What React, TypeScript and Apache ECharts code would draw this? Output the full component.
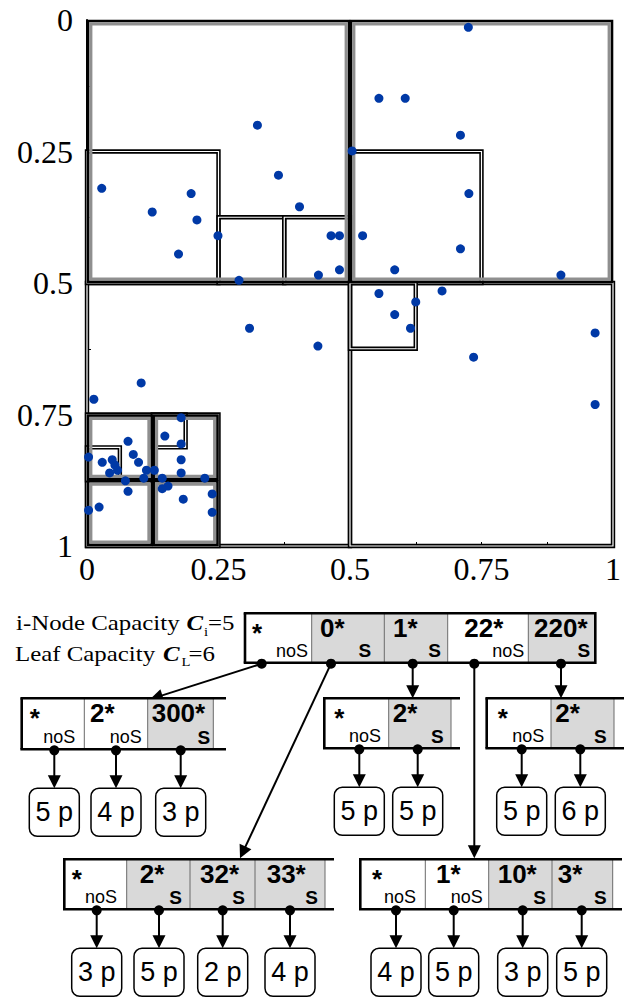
import React, { useEffect, useRef } from 'react';
import * as echarts from 'echarts';

// ---------- scatter data (x right, y downward) ----------
const pointsX = [
  0.324, 0.504, 0.028, 0.364, 0.198, 0.124, 0.209, 0.404, 0.249, 0.464, 0.48, 0.524, 0.174, 0.44, 0.48, 0.289,
  0.725, 0.555, 0.605, 0.71, 0.726, 0.71, 0.585, 0.901, 0.555, 0.675, 0.625, 0.585, 0.615, 0.966, 0.735, 0.966,
  0.309, 0.439, 0.103, 0.013, 0.179, 0.148, 0.078, 0.179, 0.088, 0.003, 0.048, 0.098, 0.029, 0.179, 0.053, 0.058,
  0.043, 0.113, 0.128, 0.179, 0.108, 0.143, 0.224, 0.073, 0.154, 0.143, 0.078, 0.238, 0.183, 0.023, 0.003, 0.238,
];
const pointsY = [
  0.2, 0.249, 0.32, 0.295, 0.33, 0.365, 0.38, 0.355, 0.41, 0.41, 0.41, 0.41, 0.445, 0.485, 0.475, 0.495,
  0.014, 0.149, 0.149, 0.219, 0.33, 0.435, 0.475, 0.485, 0.52, 0.515, 0.536, 0.56, 0.586, 0.595, 0.641, 0.731,
  0.586, 0.62, 0.69, 0.721, 0.756, 0.791, 0.801, 0.806, 0.826, 0.831, 0.836, 0.841, 0.841, 0.836, 0.846, 0.856,
  0.861, 0.856, 0.856, 0.861, 0.871, 0.871, 0.871, 0.876, 0.886, 0.891, 0.896, 0.901, 0.911, 0.926, 0.932, 0.936,
];

// region cells [x0, y0, x1, y1]
const shadedCells = [
  [0, 0, 0.5, 0.5],
  [0.5, 0, 1, 0.5],
  [0, 0.75, 0.125, 0.875],
  [0.125, 0.75, 0.25, 0.875],
  [0, 0.875, 0.125, 1],
  [0.125, 0.875, 0.25, 1],
];
const plainCells = [
  [0, 0.5, 0.5, 1],
  [0.5, 0.5, 1, 1],
  [0, 0.25, 0.25, 0.5],
  [0.25, 0.375, 0.375, 0.5],
  [0.375, 0.375, 0.5, 0.5],
  [0.5, 0.25, 0.75, 0.5],
  [0.5, 0.5, 0.625, 0.625],
  [0, 0.75, 0.25, 1],
  [0, 0.8125, 0.0625, 0.875],
  [0.125, 0.75, 0.1875, 0.8125],
];

// ---------- tree data ----------
const rootLabels = ['*', '0*', '1*', '22*', '220*'];
const rootTags = ['noS', 'S', 'S', 'noS', 'S'];
const nodeALabels = ['*', '2*', '300*'];
const nodeATags = ['noS', 'noS', 'S'];
const nodeALeaves = [5, 4, 3];
const nodeBLabels = ['*', '2*'];
const nodeBTags = ['noS', 'S'];
const nodeBLeaves = [5, 5];
const nodeCLabels = ['*', '2*'];
const nodeCTags = ['noS', 'S'];
const nodeCLeaves = [5, 6];
const nodeDLabels = ['*', '2*', '32*', '33*'];
const nodeDTags = ['noS', 'S', 'S', 'S'];
const nodeDLeaves = [3, 5, 2, 4];
const nodeELabels = ['*', '1*', '10*', '3*'];
const nodeETags = ['noS', 'noS', 'S', 'S'];
const nodeELeaves = [4, 5, 3, 5];

const SANS = '"Liberation Sans", Arial, sans-serif';
const SERIF = '"Liberation Serif", "Times New Roman", serif';

function txt(x: number, y: number, text: string, font: string, align = 'left', extra: any = {}) {
  return {
    type: 'text', x, y, silent: true, ...extra,
    style: { text, font, fill: '#000', align, verticalAlign: 'middle' },
  };
}
function seg(x1: number, y1: number, x2: number, y2: number, w = 2, color = '#000') {
  return { type: 'line', silent: true, shape: { x1, y1, x2, y2 }, style: { stroke: color, lineWidth: w } };
}
function arrow(x1: number, y1: number, x2: number, y2: number) {
  const dx = x2 - x1, dy = y2 - y1;
  const L = Math.hypot(dx, dy);
  const ux = dx / L, uy = dy / L;
  const hl = 13, hw = 6.5;
  const bx = x2 - ux * hl, by = y2 - uy * hl;
  return [
    seg(x1, y1, bx + ux * 1, by + uy * 1, 2),
    {
      type: 'polygon', silent: true,
      shape: { points: [[x2, y2], [bx - uy * hw, by + ux * hw], [bx + uy * hw, by - ux * hw]] },
      style: { fill: '#000' },
    },
  ];
}

function nodeEls(spec: any, labels: string[], tags: string[], leaves: number[] | null) {
  const { bounds, top, h, ext, closed, labelDx, tagGap, dotXs } = spec;
  const els: any[] = [];
  const bottom = top + h;
  const n = labels.length;
  for (let i = 0; i < n; i++) {
    els.push({
      type: 'rect', silent: true,
      shape: { x: bounds[i], y: top, width: bounds[i + 1] - bounds[i], height: h },
      style: { fill: tags[i] === 'S' ? '#d9d9d9' : '#ffffff' },
    });
  }
  for (let i = 1; i <= n; i++) {
    if (closed && i === n) continue;
    els.push(seg(bounds[i], top, bounds[i], bottom, 1, '#6a6a6a'));
  }
  const right = closed ? bounds[n] : ext;
  const bw = 2.6;
  els.push(seg(bounds[0] - bw / 2, top, right, top, bw));
  els.push(seg(bounds[0] - bw / 2, bottom, right, bottom, bw));
  els.push(seg(bounds[0], top, bounds[0], bottom, bw));
  if (closed) els.push(seg(right, top - bw / 2, right, bottom + bw / 2, bw));
  for (let i = 0; i < n; i++) {
    const lab = labels[i];
    if (lab === '*') {
      els.push(txt(bounds[i] + labelDx[i], top + 19.5, '*', `bold 26px ${SANS}`));
    } else {
      els.push(txt(bounds[i] + labelDx[i], top + 14.5, lab, `bold 26px ${SANS}`));
    }
    const tg = tags[i];
    if (tg === 'S') {
      els.push(txt(bounds[i + 1] - tagGap[i], bottom - 12, 'S', `bold 19px ${SANS}`, 'right'));
    } else {
      els.push(txt(bounds[i + 1] - tagGap[i], bottom - 12.2, 'noS', `18px ${SANS}`, 'right'));
    }
  }
  for (let i = 0; i < n; i++) {
    els.push({ type: 'circle', silent: true, shape: { cx: dotXs[i], cy: bottom + 1, r: 5 }, style: { fill: '#000' } });
  }
  if (leaves) {
    const lt = bottom + 39;
    for (let i = 0; i < n; i++) {
      const cx = dotXs[i];
      els.push(...arrow(cx, bottom + 4, cx, lt));
      els.push({
        type: 'rect', silent: true,
        shape: { x: cx - 25, y: lt, width: 50, height: 48, r: 8 },
        style: { fill: '#fff', stroke: '#000', lineWidth: 1.5 },
      });
      els.push(txt(cx, lt + 24, `${leaves[i]} p`, `27px ${SANS}`, 'center'));
    }
  }
  return els;
}

const ROOT = {
  bounds: [245, 311.7, 384.3, 447.7, 528.3, 595.3], top: 613.3, h: 49.4, closed: true, ext: 0,
  labelDx: [7, 8.3, 8.7, 16.6, 5.7], tagGap: [3.7, 13, 6.7, 4, 5], dotXs: [261.7, 331, 412.7, 474.3, 561],
};
const NODE_A = {
  bounds: [21.7, 84.3, 147.7, 213.3], ext: 226, top: 698.3, h: 51, closed: false,
  labelDx: [8, 5.7, 4], tagGap: [9, 6, 3], dotXs: [54.3, 116, 180.7],
};
const NODE_B = {
  bounds: [324.3, 388.7, 451], ext: 460, top: 698.3, h: 50, closed: false,
  labelDx: [10, 4], tagGap: [7.7, 7.3], dotXs: [359.3, 417.7],
};
const NODE_C = {
  bounds: [486.7, 551, 614], ext: 624, top: 698.3, h: 50, closed: false,
  labelDx: [11, 4.3], tagGap: [6.7, 7.3], dotXs: [521.7, 580.3],
};
const NODE_D = {
  bounds: [64.3, 126.7, 190, 255, 325], ext: 334, top: 859.3, h: 50, closed: false,
  labelDx: [7.4, 13, 10, 11.7], tagGap: [9.7, 8, 10, 7], dotXs: [96.7, 159, 222.7, 290],
};
const NODE_E = {
  bounds: [360.3, 425.3, 488.7, 552, 612.7], ext: 622, top: 859.3, h: 50, closed: false,
  labelDx: [11.7, 10.7, 9, 5.7], tagGap: [9.3, 6, 6, 6], dotXs: [396, 453.7, 522.7, 581.7],
};

function buildTree() {
  const els: any[] = [];
  // legend text
  const sx = 1.13;
  const main = `22px ${SERIF}`;
  const cFont = `italic bold 22px ${SERIF}`;
  const sub = `13px ${SERIF}`;
  els.push(txt(16, 622.6, 'i-Node Capacity ', main, 'left', { scaleX: sx }));
  els.push(txt(186.5, 622.6, 'C', cFont, 'left', { scaleX: sx }));
  els.push(txt(204, 631.6, 'i', sub, 'left', { scaleX: sx }));
  els.push(txt(208, 622.6, '=5', main, 'left', { scaleX: sx }));
  els.push(txt(15, 653.3, 'Leaf Capacity ', main, 'left', { scaleX: sx }));
  els.push(txt(163, 653.3, 'C', cFont, 'left', { scaleX: sx }));
  els.push(txt(181.5, 661.6, 'L', sub, 'left', { scaleX: sx }));
  els.push(txt(188.5, 653.3, '=6', main, 'left', { scaleX: sx }));

  // connections from root
  const rb = ROOT.top + ROOT.h + 1;
  const d = ROOT.dotXs;
  els.push(...arrow(d[0], rb, 150, NODE_A.top + 1));
  els.push(...arrow(d[1], rb, 240, NODE_D.top - 1));
  els.push(...arrow(d[2], rb + 3, d[2], NODE_B.top));
  els.push(...arrow(d[3], rb + 3, d[3], NODE_E.top - 1));
  els.push(...arrow(d[4], rb + 3, d[4], NODE_C.top));

  els.push(...nodeEls(ROOT, rootLabels, rootTags, null));
  els.push(...nodeEls(NODE_A, nodeALabels, nodeATags, nodeALeaves));
  els.push(...nodeEls(NODE_B, nodeBLabels, nodeBTags, nodeBLeaves));
  els.push(...nodeEls(NODE_C, nodeCLabels, nodeCTags, nodeCLeaves));
  els.push(...nodeEls(NODE_D, nodeDLabels, nodeDTags, nodeDLeaves));
  els.push(...nodeEls(NODE_E, nodeELabels, nodeETags, nodeELeaves));
  return els;
}

function rectBox(api: any) {
  const p0 = api.coord([api.value(0), api.value(1)]);
  const p1 = api.coord([api.value(2), api.value(3)]);
  const x = Math.min(p0[0], p1[0]);
  const y = Math.min(p0[1], p1[1]);
  const w = Math.abs(p1[0] - p0[0]);
  const h = Math.abs(p1[1] - p0[1]);
  return (dd: number) => ({ x: x + dd, y: y + dd, width: w - 2 * dd, height: h - 2 * dd });
}

const renderPlain = (_p: any, api: any) => {
  const inset = rectBox(api);
  return {
    type: 'group',
    children: [
      { type: 'rect', shape: inset(0), style: { fill: 'none', stroke: '#000', lineWidth: 4.4 } },
      { type: 'rect', shape: inset(0), style: { fill: 'none', stroke: '#fff', lineWidth: 1.2 } },
    ],
  };
};
const renderShaded = (_p: any, api: any) => {
  const inset = rectBox(api);
  return {
    type: 'group',
    children: [
      { type: 'rect', shape: inset(1), style: { fill: 'none', stroke: '#000', lineWidth: 2.6 } },
      { type: 'rect', shape: inset(3.8), style: { fill: 'none', stroke: '#8f8f8f', lineWidth: 3.2 } },
    ],
  };
};

export default function App() {
  const ref = useRef<HTMLDivElement>(null);
  useEffect(() => {
    if (!ref.current) return;
    const chart = echarts.init(ref.current, null, { renderer: 'svg' });
    const axisCommon = {
      type: 'value',
      min: 0,
      max: 1,
      interval: 0.25,
      splitLine: { show: false },
      axisLine: { show: true, onZero: false, lineStyle: { color: '#000', width: 2 } },
      axisTick: { show: true, inside: true, length: 4, lineStyle: { color: '#000', width: 1 } },
      minorTick: { show: true, splitNumber: 2, length: 4, lineStyle: { color: '#000', width: 1 } },
    };
    chart.setOption({
      animation: false,
      backgroundColor: '#ffffff',
      grid: { left: 87, top: 20, width: 526, height: 526, containLabel: false, outerBoundsMode: 'none' },
      xAxis: {
        ...axisCommon,
        axisLabel: { fontFamily: SERIF, fontSize: 32, color: '#000', margin: 7 },
      },
      yAxis: {
        ...axisCommon,
        inverse: true,
        axisLabel: { fontFamily: SERIF, fontSize: 32, color: '#000', margin: 14 },
      },
      series: [
        {
          type: 'custom', silent: true, clip: false, z: 1,
          renderItem: renderPlain, encode: { x: [0, 2], y: [1, 3] }, data: plainCells,
        },
        {
          type: 'custom', silent: true, clip: false, z: 2,
          renderItem: renderShaded, encode: { x: [0, 2], y: [1, 3] }, data: shadedCells,
        },
        {
          type: 'scatter', silent: true, z: 5, symbol: 'circle', symbolSize: 9,
          itemStyle: { color: '#0039a6', opacity: 1 },
          data: pointsX.map((x, i) => [x, pointsY[i]]),
        },
      ],
      graphic: { elements: buildTree() },
    });
    return () => chart.dispose();
  }, []);
  return (
    <div
      ref={ref}
      style={{ position: 'absolute', left: 0, top: 0, width: 632, height: 998, background: '#fff' }}
    />
  );
}
